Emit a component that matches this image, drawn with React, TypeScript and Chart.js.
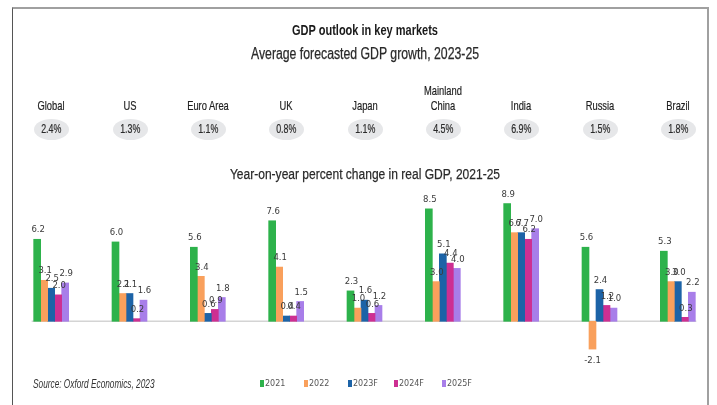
import React, { useEffect, useRef, useState } from "react";
import { Chart, registerables } from "chart.js";
Chart.register(...registerables);

const countries = ["Global", "US", "Euro Area", "UK", "Japan", "Mainland\nChina", "India", "Russia", "Brazil"];
const averages = ["2.4%", "1.3%", "1.1%", "0.8%", "1.1%", "4.5%", "6.9%", "1.5%", "1.8%"];
const seriesNames = ["2021", "2022", "2023F", "2024F", "2025F"];
const y2021 = [6.2, 6.0, 5.6, 7.6, 2.3, 8.5, 8.9, 5.6, 5.3];
const y2022 = [3.1, 2.1, 3.4, 4.1, 1.0, 3.0, 6.7, -2.1, 3.0];
const y2023F = [2.5, 2.1, 0.6, 0.4, 1.6, 5.1, 6.7, 2.4, 3.0];
const y2024F = [2.0, 0.2, 0.9, 0.4, 0.6, 4.4, 6.2, 1.2, 0.3];
const y2025F = [2.9, 1.6, 1.8, 1.5, 1.2, 4.0, 7.0, 1.0, 2.2];
const seriesValues = [y2021, y2022, y2023F, y2024F, y2025F];
const colors = ["#2db24b", "#f9a05c", "#1c63a7", "#cd2f92", "#a87ee9"];

const sans = "'Liberation Sans', 'Noto Sans', sans-serif";

const labelPlugin = {
  id: "barLabels",
  beforeDatasetsDraw(chart: any) {
    const ctx = chart.ctx;
    const metas = chart.getSortedVisibleDatasetMetas();
    const first = metas[0].data[0];
    const lastMeta = metas[metas.length - 1];
    const last = lastMeta.data[lastMeta.data.length - 1];
    const y0 = chart.scales.y.getPixelForValue(0);
    ctx.save();
    ctx.strokeStyle = "#d4d4d4";
    ctx.lineWidth = 1.5;
    ctx.beginPath();
    ctx.moveTo(first.x - first.width / 2 - 2, y0);
    ctx.lineTo(last.x + last.width / 2 + 1, y0);
    ctx.stroke();
    ctx.restore();
  },
  afterDatasetsDraw(chart: any) {
    const ctx = chart.ctx;
    ctx.save();
    ctx.font = "8.5px 'DejaVu Sans', sans-serif";
    ctx.fillStyle = "#3a3a3a";
    ctx.textAlign = "center";
    ctx.textBaseline = "middle";
    chart.data.datasets.forEach((ds: any, di: number) => {
      const meta = chart.getDatasetMeta(di);
      meta.data.forEach((el: any, i: number) => {
        const v = ds.data[i];
        const txt = v.toFixed(1);
        if (v >= 0) ctx.fillText(txt, el.x + 1, el.y - 9);
        else ctx.fillText(txt, el.x, el.y + 12);
      });
    });
    ctx.restore();
  },
};

const centered = (top: number, size: number, bold: boolean, scale: number, text: string) => (
  <div
    style={{
      position: "absolute",
      left: 0,
      width: 730,
      top,
      textAlign: "center",
      fontFamily: sans,
      fontWeight: bold ? "bold" : "normal",
      fontSize: size,
      color: bold ? "#1a1a1a" : "#2a2a2a",
      whiteSpace: "nowrap",
      WebkitTextStroke: bold ? "0" : "0.25px #2a2a2a",
      transform: `scaleX(${scale})`,
      transformOrigin: "365px 50%",
    }}
  >
    {text}
  </div>
);

export default function App() {
  const canvasRef = useRef<HTMLCanvasElement | null>(null);
  const [centers, setCenters] = useState<number[]>([]);

  useEffect(() => {
    document.body.style.margin = "0";
    const chart = new Chart(canvasRef.current as HTMLCanvasElement, {
      type: "bar",
      data: {
        labels: countries,
        datasets: seriesNames.map((name, i) => ({
          label: name,
          data: seriesValues[i],
          backgroundColor: colors[i],
          borderWidth: 0,
          barThickness: 7,
        })),
      },
      options: {
        responsive: false,
        animation: false,
        events: [],
        layout: { padding: { left: 12, right: 0, top: 189, bottom: 44 } },
        plugins: { legend: { display: false }, tooltip: { enabled: false }, title: { display: false } },
        scales: {
          x: { display: false, offset: true, grid: { display: false } },
          y: { display: false, min: -3, max: 10 },
        },
      },
      plugins: [labelPlugin],
    });
    const xs = chart.scales.x;
    setCenters(countries.map((_, i) => xs.getPixelForValue(i)));
    return () => chart.destroy();
  }, []);

  const legendX = [260, 304, 348, 394, 442];

  return (
    <div style={{ position: "relative", width: 717, height: 405, overflow: "hidden", background: "#fff" }}>
      <div
        style={{
          position: "absolute",
          left: 12,
          top: 7,
          width: 697,
          height: 420,
          borderTop: "2px solid #a0a0a0",
          borderLeft: "1px solid #555",
          borderRight: "2px solid #a0a0a0",
          boxSizing: "border-box",
        }}
      />
      <canvas ref={canvasRef} width={717} height={405} style={{ position: "absolute", left: 0, top: 0, width: 717, height: 405 }} />
      {centered(21.5, 14, true, 0.786, "GDP outlook in key markets")}
      {centered(45, 16, false, 0.767, "Average forecasted GDP growth, 2023-25")}
      {centered(165.3, 15.5, false, 0.776, "Year-on-year percent change in real GDP, 2021-25")}
      {centers.map((cx, i) => (
        <React.Fragment key={i}>
          <div
            style={{
              position: "absolute",
              left: cx - 40,
              width: 80,
              bottom: 405 - 113,
              textAlign: "center",
              fontFamily: sans,
              fontSize: 13,
              lineHeight: "15px",
              color: "#1e1e1e",
              whiteSpace: "pre-line",
              WebkitTextStroke: "0.2px #1e1e1e",
              transform: "scaleX(0.72)",
              transformOrigin: "40px 50%",
            }}
          >
            {countries[i]}
          </div>
          <div
            style={{
              position: "absolute",
              left: cx - 17,
              top: 119,
              width: 35,
              height: 21,
              borderRadius: "50%",
              background: "#e6e7e9",
              textAlign: "center",
              lineHeight: "21px",
              fontFamily: sans,
              fontSize: 12.5,
              color: "#2a2a2a",
              WebkitTextStroke: "0.2px #2a2a2a",
            }}
          >
            <span style={{ display: "inline-block", transform: "scaleX(0.71)" }}>{averages[i]}</span>
          </div>
        </React.Fragment>
      ))}
      <div
        style={{
          position: "absolute",
          left: 33,
          top: 377,
          fontFamily: sans,
          fontStyle: "italic",
          fontSize: 12,
          color: "#333",
          whiteSpace: "nowrap",
          transform: "scaleX(0.69)",
          transformOrigin: "0 50%",
        }}
      >
        Source: Oxford Economics, 2023
      </div>
      {seriesNames.map((name, i) => (
        <div
          key={name}
          style={{ position: "absolute", left: legendX[i], top: 379, display: "flex", alignItems: "center", fontFamily: "'DejaVu Sans', sans-serif", fontSize: 8, color: "#555" }}
        >
          <span style={{ display: "inline-block", width: 4, height: 7, background: colors[i], marginRight: 1 }} />
          {name}
        </div>
      ))}
    </div>
  );
}
